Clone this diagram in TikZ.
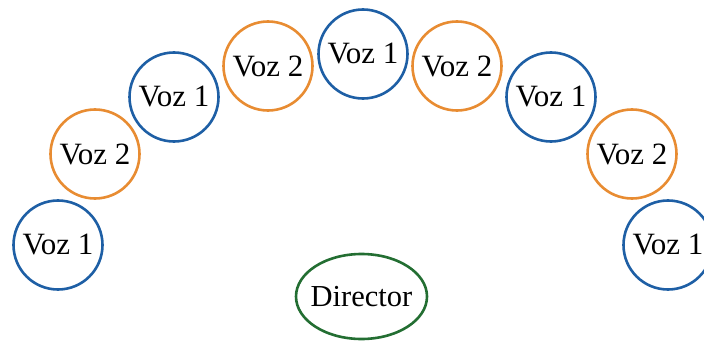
\documentclass[tikz,border=0pt]{standalone}
\usepackage{fontspec}
\setmainfont{Liberation Serif}
\usetikzlibrary{shapes.geometric}
\definecolor{vblue}{RGB}{30,95,165}
\definecolor{vorange}{RGB}{232,140,50}
\definecolor{vgreen}{RGB}{35,110,50}
\tikzset{
  voz/.style={circle, draw, line width=2.6pt, minimum size=89pt, inner sep=0pt, font=\fontsize{31}{34}\selectfont},
  vozA/.style={voz, draw=vblue},
  vozB/.style={voz, draw=vorange},
  dirnode/.style={ellipse, draw=vgreen, line width=2.6pt, minimum width=131pt, minimum height=85pt, inner xsep=-7pt, inner ysep=0pt, font=\fontsize{30.5}{34}\selectfont}
}
\begin{document}
\begin{tikzpicture}[x=1pt,y=1pt]
\useasboundingbox (0,0) rectangle (704,-342);
\begin{scope}
\clip (0,0) rectangle (704,-342);
\node[vozA] (c1) at (58,-245) {Voz 1};
\node[vozB] (c2) at (95,-154) {Voz 2};
\node[vozA] (c3) at (174,-97) {Voz 1};
\node[vozB] (c4) at (268,-66) {Voz 2};
\node[vozA] (c5) at (363,-54) {Voz 1};
\node[vozB] (c6) at (457,-66) {Voz 2};
\node[vozA] (c7) at (551,-97) {Voz 1};
\node[vozB] (c8) at (632,-154) {Voz 2};
\node[vozA] (c9) at (668,-245) {Voz 1};
\node[dirnode] (d) at (361.5,-296.5) {Director};
\end{scope}
\end{tikzpicture}
\end{document}
